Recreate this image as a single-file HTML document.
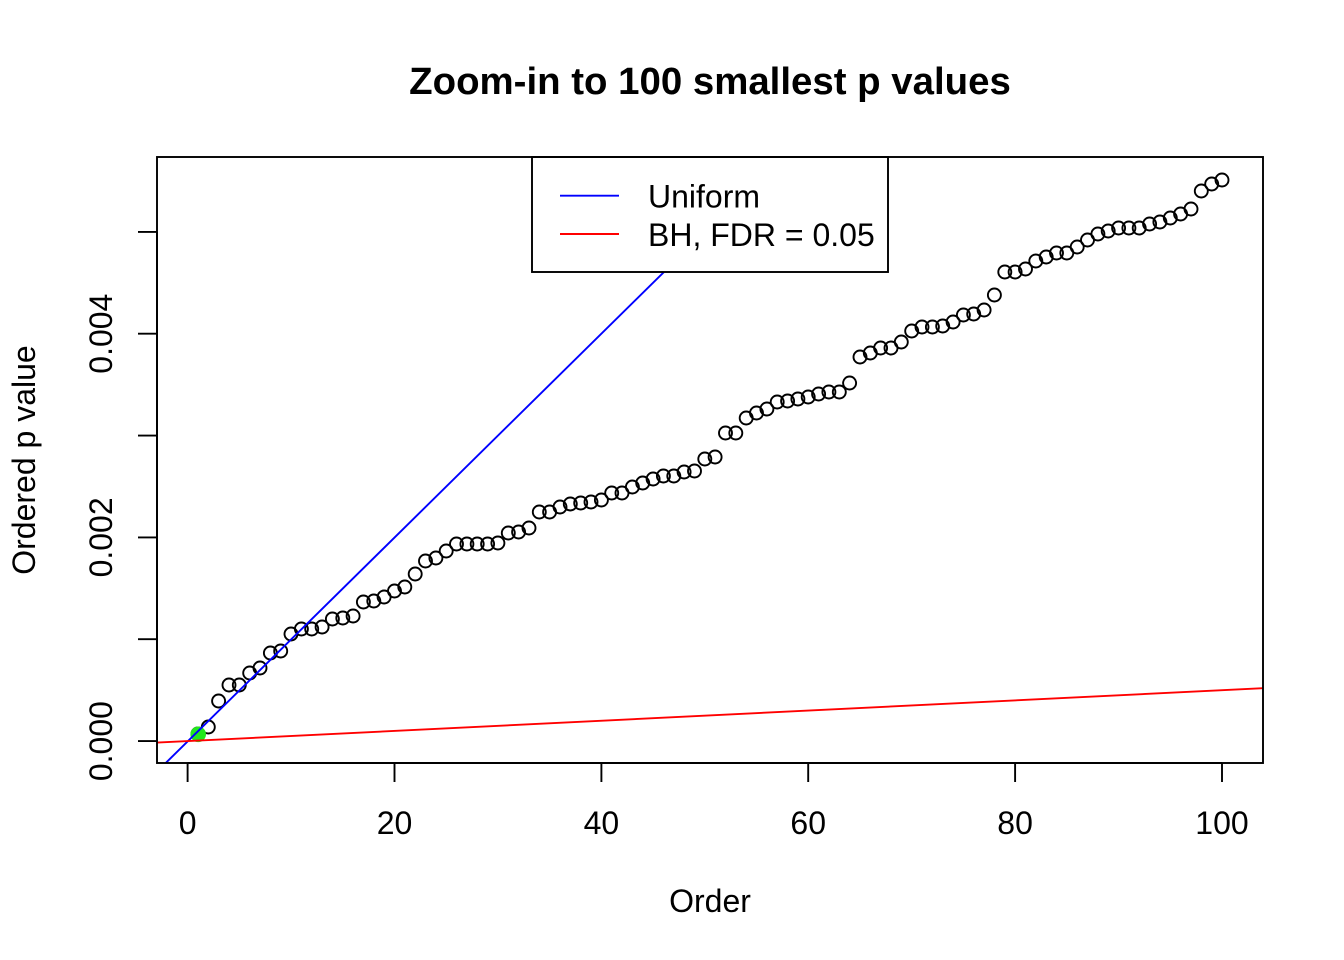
<!DOCTYPE html>
<html>
<head>
<meta charset="utf-8">
<style>
  html, body { margin: 0; padding: 0; background: #ffffff; }
  svg { display: block; }
  text { font-family: "Liberation Sans", Arial, Helvetica, sans-serif; fill: #000; }
</style>
</head>
<body>
<svg width="1344" height="960" viewBox="0 0 1344 960" xmlns="http://www.w3.org/2000/svg">
  <rect x="0" y="0" width="1344" height="960" fill="#ffffff"/>
  <defs>
    <clipPath id="plotclip">
      <rect x="157" y="157" width="1106" height="606"/>
    </clipPath>
  </defs>

  <!-- Title -->
  <text x="710" y="94" text-anchor="middle" font-size="38.4" font-weight="bold">Zoom-in to 100 smallest p values</text>

  <!-- Points -->
  <g fill="none" stroke="#000" stroke-width="1.9" clip-path="url(#plotclip)">
    <circle cx="197.9" cy="734" r="6.5"/>
    <circle cx="208.3" cy="727" r="6.5"/>
    <circle cx="218.6" cy="701" r="6.5"/>
    <circle cx="229.0" cy="685" r="6.5"/>
    <circle cx="239.3" cy="685" r="6.5"/>
    <circle cx="249.7" cy="673" r="6.5"/>
    <circle cx="260.0" cy="668" r="6.5"/>
    <circle cx="270.4" cy="653" r="6.5"/>
    <circle cx="280.7" cy="651" r="6.5"/>
    <circle cx="291.0" cy="634" r="6.5"/>
    <circle cx="301.4" cy="629" r="6.5"/>
    <circle cx="311.7" cy="629" r="6.5"/>
    <circle cx="322.1" cy="627" r="6.5"/>
    <circle cx="332.4" cy="619" r="6.5"/>
    <circle cx="342.8" cy="618" r="6.5"/>
    <circle cx="353.1" cy="616" r="6.5"/>
    <circle cx="363.4" cy="602" r="6.5"/>
    <circle cx="373.8" cy="601" r="6.5"/>
    <circle cx="384.1" cy="597" r="6.5"/>
    <circle cx="394.5" cy="591" r="6.5"/>
    <circle cx="404.8" cy="587" r="6.5"/>
    <circle cx="415.2" cy="574" r="6.5"/>
    <circle cx="425.5" cy="561" r="6.5"/>
    <circle cx="435.9" cy="558" r="6.5"/>
    <circle cx="446.2" cy="551" r="6.5"/>
    <circle cx="456.5" cy="544" r="6.5"/>
    <circle cx="466.9" cy="544" r="6.5"/>
    <circle cx="477.2" cy="544" r="6.5"/>
    <circle cx="487.6" cy="544" r="6.5"/>
    <circle cx="497.9" cy="543" r="6.5"/>
    <circle cx="508.3" cy="533" r="6.5"/>
    <circle cx="518.6" cy="532" r="6.5"/>
    <circle cx="529.0" cy="528" r="6.5"/>
    <circle cx="539.3" cy="512" r="6.5"/>
    <circle cx="549.6" cy="512" r="6.5"/>
    <circle cx="560.0" cy="507" r="6.5"/>
    <circle cx="570.3" cy="504" r="6.5"/>
    <circle cx="580.7" cy="503" r="6.5"/>
    <circle cx="591.0" cy="502" r="6.5"/>
    <circle cx="601.4" cy="500" r="6.5"/>
    <circle cx="611.7" cy="493" r="6.5"/>
    <circle cx="622.0" cy="493" r="6.5"/>
    <circle cx="632.4" cy="487" r="6.5"/>
    <circle cx="642.7" cy="483" r="6.5"/>
    <circle cx="653.1" cy="479" r="6.5"/>
    <circle cx="663.4" cy="476" r="6.5"/>
    <circle cx="673.8" cy="476" r="6.5"/>
    <circle cx="684.1" cy="472" r="6.5"/>
    <circle cx="694.5" cy="471" r="6.5"/>
    <circle cx="704.8" cy="459" r="6.5"/>
    <circle cx="715.1" cy="457" r="6.5"/>
    <circle cx="725.5" cy="433" r="6.5"/>
    <circle cx="735.8" cy="433" r="6.5"/>
    <circle cx="746.2" cy="418" r="6.5"/>
    <circle cx="756.5" cy="413" r="6.5"/>
    <circle cx="766.9" cy="409" r="6.5"/>
    <circle cx="777.2" cy="402" r="6.5"/>
    <circle cx="787.6" cy="401" r="6.5"/>
    <circle cx="797.9" cy="399" r="6.5"/>
    <circle cx="808.2" cy="397" r="6.5"/>
    <circle cx="818.6" cy="394" r="6.5"/>
    <circle cx="828.9" cy="392" r="6.5"/>
    <circle cx="839.3" cy="392" r="6.5"/>
    <circle cx="849.6" cy="383" r="6.5"/>
    <circle cx="860.0" cy="357" r="6.5"/>
    <circle cx="870.3" cy="353" r="6.5"/>
    <circle cx="880.6" cy="348" r="6.5"/>
    <circle cx="891.0" cy="348" r="6.5"/>
    <circle cx="901.3" cy="342" r="6.5"/>
    <circle cx="911.7" cy="331" r="6.5"/>
    <circle cx="922.0" cy="327" r="6.5"/>
    <circle cx="932.4" cy="327" r="6.5"/>
    <circle cx="942.7" cy="326" r="6.5"/>
    <circle cx="953.1" cy="322" r="6.5"/>
    <circle cx="963.4" cy="315" r="6.5"/>
    <circle cx="973.7" cy="314" r="6.5"/>
    <circle cx="984.1" cy="310" r="6.5"/>
    <circle cx="994.4" cy="295" r="6.5"/>
    <circle cx="1004.8" cy="272" r="6.5"/>
    <circle cx="1015.1" cy="272" r="6.5"/>
    <circle cx="1025.5" cy="269" r="6.5"/>
    <circle cx="1035.8" cy="261" r="6.5"/>
    <circle cx="1046.2" cy="257" r="6.5"/>
    <circle cx="1056.5" cy="253" r="6.5"/>
    <circle cx="1066.8" cy="253" r="6.5"/>
    <circle cx="1077.2" cy="247" r="6.5"/>
    <circle cx="1087.5" cy="240" r="6.5"/>
    <circle cx="1097.9" cy="234" r="6.5"/>
    <circle cx="1108.2" cy="231" r="6.5"/>
    <circle cx="1118.6" cy="228" r="6.5"/>
    <circle cx="1128.9" cy="228" r="6.5"/>
    <circle cx="1139.2" cy="228" r="6.5"/>
    <circle cx="1149.6" cy="224" r="6.5"/>
    <circle cx="1159.9" cy="222" r="6.5"/>
    <circle cx="1170.3" cy="218" r="6.5"/>
    <circle cx="1180.6" cy="214" r="6.5"/>
    <circle cx="1191.0" cy="209" r="6.5"/>
    <circle cx="1201.3" cy="191" r="6.5"/>
    <circle cx="1211.7" cy="184" r="6.5"/>
    <circle cx="1222.0" cy="180" r="6.5"/>
  </g>

  <!-- Green highlighted point -->
  <circle cx="198.2" cy="734.3" r="7.8" fill="#22e81c" clip-path="url(#plotclip)"/>

  <!-- Reference lines -->
  <g clip-path="url(#plotclip)">
    <line x1="157" y1="771.6" x2="1263" y2="-318.3" stroke="#0000ff" stroke-width="1.9"/>
    <line x1="157" y1="742.6" x2="1263" y2="688.2" stroke="#ff0000" stroke-width="1.9"/>
  </g>

  <!-- Legend -->
  <rect x="532" y="157" width="356" height="115" fill="#ffffff" stroke="#000" stroke-width="1.9"/>
  <line x1="560" y1="195.7" x2="619" y2="195.7" stroke="#0000ff" stroke-width="1.9"/>
  <line x1="560" y1="234" x2="619" y2="234" stroke="#ff0000" stroke-width="1.9"/>
  <text x="648" y="207.5" font-size="32">Uniform</text>
  <text x="648" y="246" font-size="32">BH, FDR = 0.05</text>

  <!-- Plot box -->
  <rect x="157" y="157" width="1106" height="606" fill="none" stroke="#000" stroke-width="1.9"/>

  <!-- X axis -->
  <g stroke="#000" stroke-width="1.9">
    <line x1="187.6" y1="763" x2="1222" y2="763"/>
    <line x1="187.6" y1="763" x2="187.6" y2="782"/>
    <line x1="394.5" y1="763" x2="394.5" y2="782"/>
    <line x1="601.4" y1="763" x2="601.4" y2="782"/>
    <line x1="808.2" y1="763" x2="808.2" y2="782"/>
    <line x1="1015.1" y1="763" x2="1015.1" y2="782"/>
    <line x1="1222" y1="763" x2="1222" y2="782"/>
  </g>
  <g font-size="32" text-anchor="middle">
    <text x="187.6" y="834">0</text>
    <text x="394.5" y="834">20</text>
    <text x="601.4" y="834">40</text>
    <text x="808.2" y="834">60</text>
    <text x="1015.1" y="834">80</text>
    <text x="1222" y="834">100</text>
  </g>
  <text x="710" y="912" font-size="32" text-anchor="middle">Order</text>

  <!-- Y axis -->
  <g stroke="#000" stroke-width="1.9">
    <line x1="157" y1="231.9" x2="157" y2="741.1"/>
    <line x1="138" y1="741.1" x2="157" y2="741.1"/>
    <line x1="138" y1="639.2" x2="157" y2="639.2"/>
    <line x1="138" y1="537.4" x2="157" y2="537.4"/>
    <line x1="138" y1="435.6" x2="157" y2="435.6"/>
    <line x1="138" y1="333.7" x2="157" y2="333.7"/>
    <line x1="138" y1="231.9" x2="157" y2="231.9"/>
  </g>
  <g font-size="32" text-anchor="middle">
    <text transform="translate(112,741.1) rotate(-90)" x="0" y="0">0.000</text>
    <text transform="translate(112,537.4) rotate(-90)" x="0" y="0">0.002</text>
    <text transform="translate(112,333.7) rotate(-90)" x="0" y="0">0.004</text>
  </g>
  <text transform="translate(35,460) rotate(-90)" x="0" y="0" font-size="32" text-anchor="middle">Ordered p value</text>
</svg>
</body>
</html>
